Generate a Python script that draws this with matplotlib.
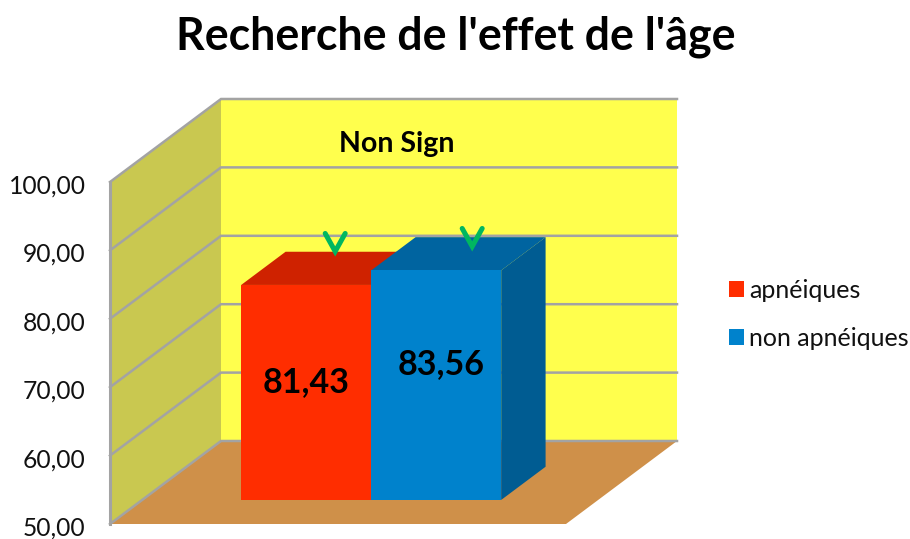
import matplotlib
matplotlib.use("Agg")
import matplotlib.pyplot as plt
from matplotlib.patches import Polygon, Patch
from matplotlib.transforms import ScaledTranslation

categories = ["apnéiques", "non apnéiques"]
values = [81.43, 83.56]
value_labels = ["81,43", "83,56"]
colors = ["#FF2D00", "#0082CC"]
top_colors = ["#CF2200", "#0064A0"]
side_colors = ["#A81C00", "#005C92"]
y_ticks = [50, 60, 70, 80, 90, 100]
y_tick_labels = ["50,00", "60,00", "70,00", "80,00", "90,00", "100,00"]

W, H = 910, 539
plt.rcParams["font.family"] = ["Lato", "DejaVu Sans"]

fig = plt.figure(figsize=(W / 100, H / 100), dpi=100)
# axes = front plane + depth box, in pixels
ax = fig.add_axes([110 / W, 1 - 524 / H, 567 / W, 426 / H])
px_x = 456.0          # one x unit
px_y = 6.84           # one value unit
ax.set_xlim(0, 567 / px_x)
ax.set_ylim(50, 50 + 426 / px_y)
dx = 111 / px_x       # full depth shift
dy = 83 / px_y


def pt(x, y, d=0.0):
    return (x + dx * d, y + dy * d)


def face(pts, color, z):
    ax.add_patch(Polygon(pts, closed=True, facecolor=color, edgecolor="none", zorder=z, clip_on=False))


# walls and floor
face([pt(0, 50, 1), pt(1, 50, 1), pt(1, 100, 1), pt(0, 100, 1)], "#FFFF4D", 1)
face([pt(0, 50), pt(0, 50, 1), pt(0, 100, 1), pt(0, 100)], "#C9C850", 1)
face([pt(0, 50), pt(1, 50), pt(1, 50, 1), pt(0, 50, 1)], "#CF9049", 1)

# grid
grid_c = "#A3A3A3"
for t in y_ticks:
    a, b, c = pt(0, t), pt(0, t, 1), pt(1, t, 1)
    ax.plot([a[0], b[0], c[0]], [a[1], b[1], c[1]], color=grid_c, lw=1.8, zorder=2,
            clip_on=False, solid_joinstyle="miter")
ax.plot([0, 0], [50, 100], color=grid_c, lw=2.2, zorder=2, clip_on=False)

# bars
bar_w = 130 / px_x
x0 = 99 / px_x
d0, d1 = 0.29, 0.69
label_dx = [0, 5 / px_x]
label_frac = [0.55, 0.59]
for i, v in enumerate(values):
    l = x0 + i * bar_w
    r = l + bar_w
    face([pt(l, v, d0), pt(r, v, d0), pt(r, v, d1), pt(l, v, d1)], top_colors[i], 3 + i)
    face([pt(r, 50, d0), pt(r, v, d0), pt(r, v, d1), pt(r, 50, d1)], side_colors[i], 3 + i)
    face([pt(l, 50, d0), pt(r, 50, d0), pt(r, v, d0), pt(l, v, d0)], colors[i], 3 + i)
    cx, cy = pt((l + r) / 2, 50 + (v - 50) * label_frac[i], d0)
    ax.text(cx + label_dx[i], cy, value_labels[i], ha="center", va="center",
            fontsize=24.5, fontweight="bold", color="black", zorder=8)

# green check marks above the bars
check_dx = [29 / px_x, 36 / px_x]
check_dy = [4.9, 3.5]
for i, v in enumerate(values):
    l = x0 + i * bar_w
    cx, cy = pt(l + bar_w / 2, v, d0)
    cx += check_dx[i]
    cy += check_dy[i]
    ax.plot([cx - 10 / px_x, cx, cx + 10 / px_x], [cy + 18 / px_y, cy, cy + 18 / px_y],
            color="#00B760", lw=3.6, zorder=9, solid_capstyle="round", solid_joinstyle="miter",
            clip_on=False)

nx, ny = pt(0.386, 93.4, 1)
ax.text(nx, ny, "Non Sign", ha="center", va="center", fontsize=20.5, fontweight="bold", zorder=8)

# axes furniture
ax.set_yticks(y_ticks)
ax.set_yticklabels(y_tick_labels, fontsize=17.7, color="#111111")
ax.tick_params(axis="y", length=0, pad=17.5)
for lab in ax.get_yticklabels():
    lab.set_transform(lab.get_transform() + ScaledTranslation(0, -2 / 100, fig.dpi_scale_trans))
ax.set_xticks([])
for s in ax.spines.values():
    s.set_visible(False)
ax.patch.set_visible(False)

fig.text(456 / W, 1 - 37 / H, "Recherche de l'effet de l'âge", ha="center", va="center",
         fontsize=32.1, fontweight="bold", color="black")

handles = [Patch(facecolor=c, edgecolor="none") for c in colors]
fig.legend(handles, categories, loc="center left", bbox_to_anchor=(721 / W, 1 - 314 / H), frameon=False,
           fontsize=18, handlelength=0.62, handleheight=0.62, handletextpad=0.2, labelspacing=1.0,
           borderpad=0.3, borderaxespad=0, labelcolor="#111111")

fig.savefig("out.png", dpi=100)
